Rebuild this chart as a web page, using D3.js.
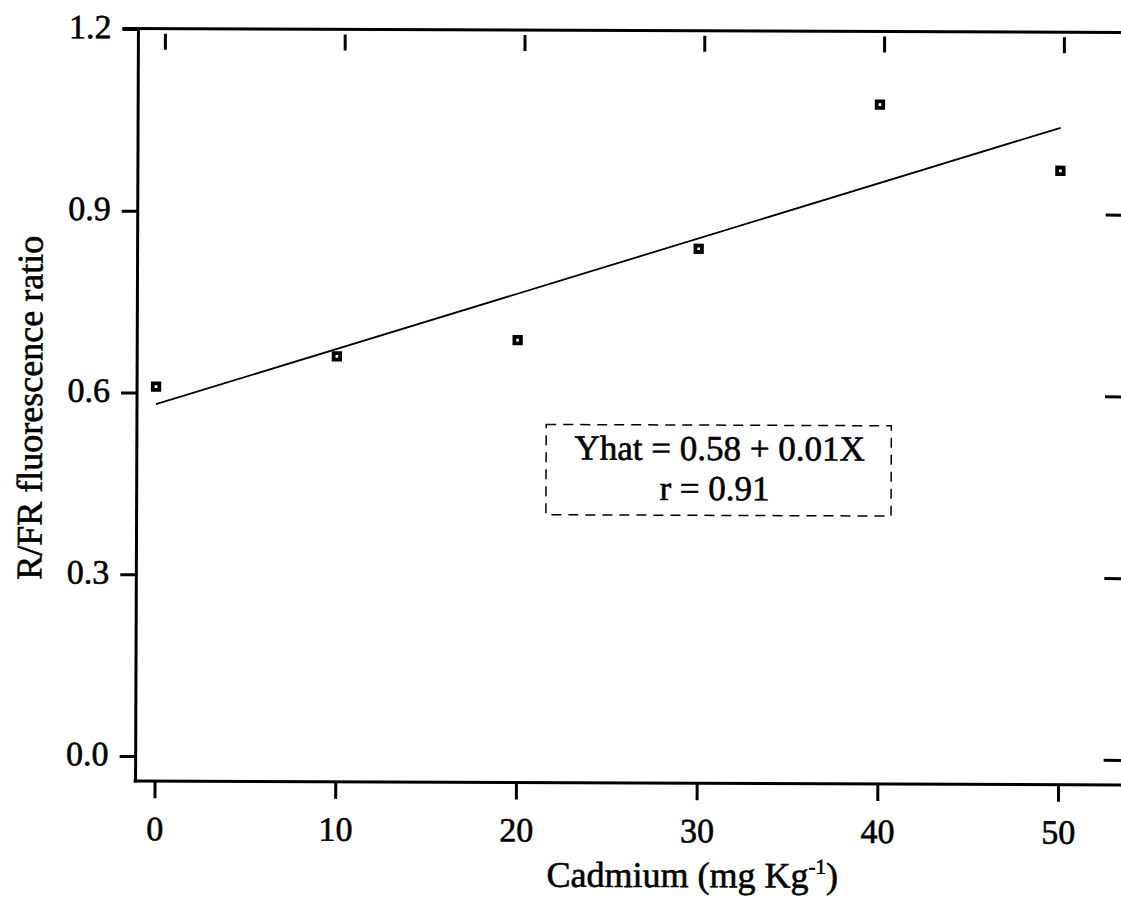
<!DOCTYPE html>
<html>
<head>
<meta charset="utf-8">
<script src="https://cdn.jsdelivr.net/npm/d3@7"></script>
<style>
  html, body { margin: 0; padding: 0; background: #fff; }
  svg { display: block; }
  text { font-family: "Liberation Serif", "Times New Roman", serif; fill: #000; stroke: #000; stroke-width: 0.6px; }
</style>
</head>
<body>
<svg id="chart" width="1121" height="904"></svg>
<script>
// ---- data ----
const cadmium = [0, 10, 20, 30, 40, 50];
const ratio = [0.610, 0.661, 0.689, 0.841, 1.080, 0.972];
const fitX = [0, 50];
const fitY = [0.581, 1.043];
const xTicks = [0, 10, 20, 30, 40, 50];
const yTicks = [0.0, 0.3, 0.6, 0.9, 1.2];
const rightTicks = [0.0, 0.3, 0.6, 0.9];
const equationLines = ["Yhat = 0.58 + 0.01X", "r = 0.91"];
const annoX = [21.6, 40.7];
const annoY = [0.55, 0.401];
const xTitle = "Cadmium (mg Kg";
const xTitleSup = "-1";
const yTitle = "R/FR fluorescence ratio";

// ---- layout ----
const svg = d3.select("#chart");
const g = svg.append("g").attr("transform", "rotate(0.22, 630, 405)");

const x = d3.scaleLinear().domain([0, 50]).range([156, 1059.5]);
const xTop = d3.scaleLinear().domain([0, 50]).range([163.5, 1062.5]);
const y = d3.scaleLinear().domain([0, 1.2]).range([758, 31]);

const leftX = 137, bottomY = 783, rightEdge = 1130;

// frame lines
g.append("line").attr("x1", leftX).attr("x2", leftX).attr("y1", y(1.2) - 1).attr("y2", bottomY + 1.5)
  .attr("stroke", "#000").attr("stroke-width", 3);
g.append("line").attr("x1", 121).attr("x2", rightEdge).attr("y1", y(1.2) - 0.5).attr("y2", y(1.2) - 0.5)
  .attr("stroke", "#000").attr("stroke-width", 3);
g.append("line").attr("x1", 135).attr("x2", rightEdge).attr("y1", bottomY).attr("y2", bottomY)
  .attr("stroke", "#000").attr("stroke-width", 3);

// left axis
const yAxis = g.append("g").attr("transform", `translate(${leftX},0)`)
  .call(d3.axisLeft(y).tickValues(yTicks).tickFormat(d3.format(".1f")).tickSize(16).tickPadding(11));
yAxis.select(".domain").remove();
yAxis.selectAll(".tick line").attr("stroke", "#000").attr("stroke-width", 3);
yAxis.selectAll(".tick text").attr("font-size", 34).attr("dy", "0.26em")
  .style("font-family", "'Liberation Serif', serif");

// bottom axis
const xAxis = g.append("g").attr("transform", `translate(0,${bottomY})`)
  .call(d3.axisBottom(x).tickValues(xTicks).tickFormat(d3.format("d")).tickSize(17));
xAxis.select(".domain").remove();
xAxis.selectAll(".tick line").attr("stroke", "#000").attr("stroke-width", 3);
xAxis.selectAll(".tick text").attr("font-size", 34).attr("y", 59).attr("dy", 0)
  .style("font-family", "'Liberation Serif', serif");

// top ticks
const topAxis = g.append("g").attr("transform", "translate(0,35.5)")
  .call(d3.axisBottom(xTop).tickValues(xTicks).tickFormat("").tickSize(16));
topAxis.select(".domain").remove();
topAxis.selectAll(".tick line").attr("stroke", "#000").attr("stroke-width", 3);

// right ticks
const rAxis = g.append("g").attr("transform", "translate(1105,0)")
  .call(d3.axisRight(y).tickValues(rightTicks).tickFormat("").tickSize(25));
rAxis.select(".domain").remove();
rAxis.selectAll(".tick line").attr("stroke", "#000").attr("stroke-width", 3);

// regression line
const line = d3.line().x(d => x(d[0])).y(d => y(d[1]));
g.append("path").datum(fitX.map((v, i) => [v, fitY[i]]))
  .attr("d", line).attr("fill", "none").attr("stroke", "#000").attr("stroke-width", 1.8);

// points
const s = 6.5;
g.selectAll("rect.pt").data(cadmium.map((v, i) => [v, ratio[i]])).enter().append("rect")
  .attr("class", "pt")
  .attr("x", d => x(d[0]) - s / 2).attr("y", d => y(d[1]) - s / 2)
  .attr("width", s).attr("height", s)
  .attr("fill", "#fff").attr("stroke", "#000").attr("stroke-width", 3.8);

// annotation box
const bx0 = x(annoX[0]), bx1 = x(annoX[1]), by0 = y(annoY[0]), by1 = y(annoY[1]);
g.append("rect").attr("x", bx0).attr("y", by0).attr("width", bx1 - bx0).attr("height", by1 - by0)
  .attr("fill", "none").attr("stroke", "#000").attr("stroke-width", 1.5).attr("stroke-dasharray", "10,7");
const bcx = (bx0 + bx1) / 2;
g.append("text").attr("x", bcx + 1).attr("y", by0 + 35).attr("text-anchor", "middle")
  .attr("font-size", 35).text(equationLines[0]);
g.append("text").attr("x", bcx - 4).attr("y", by0 + 75).attr("text-anchor", "middle")
  .attr("font-size", 35).text(equationLines[1]);

// axis titles
const xt = g.append("text").attr("x", 694).attr("y", 887).attr("text-anchor", "middle").attr("font-size", 36);
xt.append("tspan").text(xTitle);
xt.append("tspan").attr("font-size", 21).attr("dy", -14).text(xTitleSup);
xt.append("tspan").attr("dy", 14).text(")");

g.append("text").attr("transform", "translate(42,410) rotate(-90)").attr("text-anchor", "middle")
  .attr("font-size", 36).text(yTitle);
</script>
</body>
</html>
